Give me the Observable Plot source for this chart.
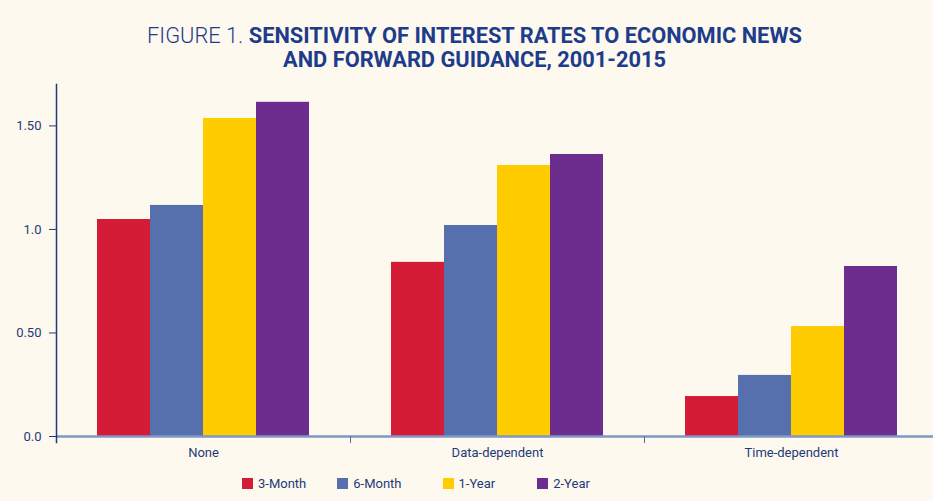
<!DOCTYPE html>
<html><head><meta charset="utf-8">
<script src="https://cdn.jsdelivr.net/npm/d3@7"></script>
<script src="https://cdn.jsdelivr.net/npm/@observablehq/plot@0.6"></script>
<style>
html,body{margin:0;padding:0;background:#fdf9ee;}
body{width:933px;height:501px;overflow:hidden;font-family:Roboto,"Liberation Sans",sans-serif;}
#title{height:75px;box-sizing:border-box;padding-top:24px;text-align:center;color:#1d3c8c;font-size:21.8px;line-height:23.5px;white-space:nowrap;margin-left:16px;}
#title .light{font-weight:300}
#title b{font-weight:700}
#chart svg{display:block;background:transparent;}
#legend .lg-swatches{margin:0 0 0 242px;min-height:27px;font-family:Roboto,"Liberation Sans",sans-serif;font-size:13px;color:#1f3a7a;display:flex;align-items:center;}
#legend .lg-swatch{display:inline-flex;align-items:center;margin-right:31px;}
#legend .lg-swatch:nth-of-type(2){margin-right:41px;}
#legend .lg-swatch:nth-of-type(3){margin-right:42px;}
#legend .lg-swatch > svg{margin-right:5px;}
</style></head><body>
<div id="title"><span class="light">FIGURE 1.</span> <b>SENSITIVITY OF INTEREST RATES TO ECONOMIC NEWS<br>AND FORWARD GUIDANCE, 2001-2015</b></div>
<div id="chart"></div>
<div id="legend"></div>
<script>
const groups = ["None", "Data-dependent", "Time-dependent"];
const series = ["3-Month", "6-Month", "1-Year", "2-Year"];
const colors = ["#d51c36", "#5670ae", "#ffcc00", "#6c2d8f"];
const valuesNone = [1.048, 1.116, 1.536, 1.614];
const valuesDataDependent = [0.841, 1.019, 1.309, 1.362];
const valuesTimeDependent = [0.193, 0.295, 0.531, 0.821];
const yTicks = [0, 0.5, 1, 1.5];
const yTickLabels = ["0.0", "0.50", "1.0", "1.50"];

const groupValues = [valuesNone, valuesDataDependent, valuesTimeDependent];
const data = groups.flatMap((g, i) => groupValues[i].map((v, j) => ({group: g, series: series[j], value: v})));

const navy = "#1f3a7a";
const plot = Plot.plot({
  width: 933, height: 395,
  marginLeft: 55, marginRight: -6, marginTop: 9, marginBottom: 34,
  style: {background: "transparent", fontFamily: "Roboto, 'Liberation Sans', sans-serif", fontSize: "13px", color: navy},
  fx: {domain: groups, padding: 0, label: null},
  x: {domain: series, paddingInner: 0, paddingOuter: 0.74, axis: null},
  y: {domain: [0, 1.7], axis: null},
  color: {domain: series, range: colors},
  marks: [
    Plot.barY(data, {fx: "group", x: "series", y: "value", fill: "series"}),
    Plot.ruleY([0], {stroke: "#7f97c6", strokeWidth: 2.5}),
    Plot.frame({anchor: "left", insetTop: 352, insetBottom: -6, stroke: "#5b6f9d", strokeWidth: 1}),
    Plot.frame({anchor: "left", insetBottom: -6, stroke: navy, strokeWidth: 1.5, fx: () => groups[0]}),
    Plot.axisY({ticks: yTicks, tickFormat: (d) => yTickLabels[yTicks.indexOf(d)], tickSize: 7, tickPadding: 8, stroke: navy, fill: navy, label: null}),
    Plot.axisFx({anchor: "bottom", tickSize: 0, tickPadding: 11, label: null, fill: navy})
  ]
});
document.getElementById("chart").appendChild(plot);

const leg = Plot.legend({color: {domain: series, range: colors}, legend: "swatches", swatchSize: 11, className: "lg"});
document.getElementById("legend").appendChild(leg);
</script>
</body></html>
